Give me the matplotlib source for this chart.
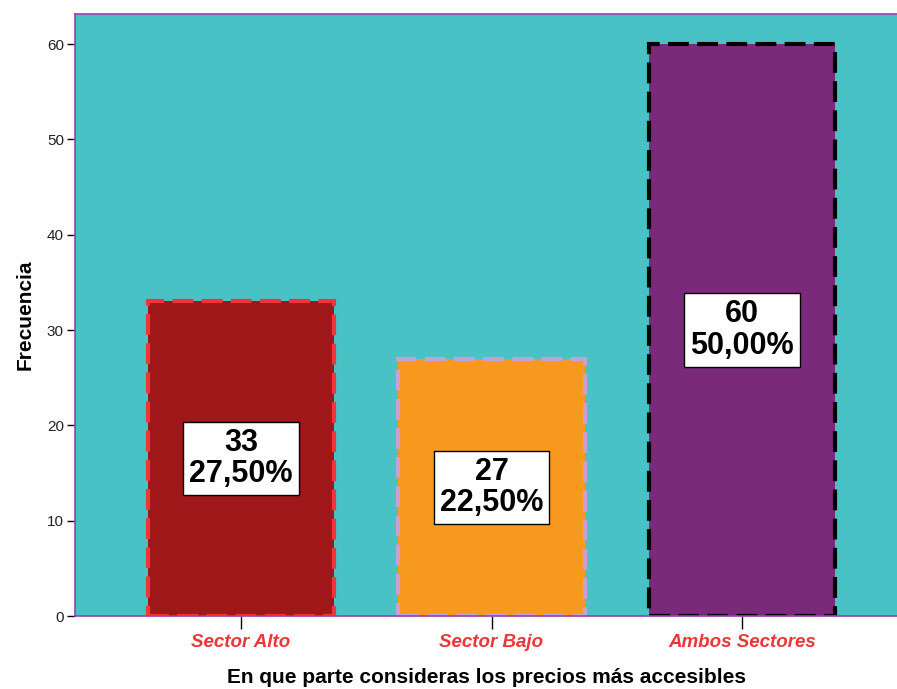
import matplotlib
matplotlib.use("Agg")
import matplotlib.pyplot as plt

categories = ["Sector Alto", "Sector Bajo", "Ambos Sectores"]
counts = [33, 27, 60]
percents = ["27,50%", "22,50%", "50,00%"]
fill_colors = ["#a0171a", "#f7991f", "#7b2a7b"]
edge_colors = ["#ee3539", "#c9a0d2", "#000000"]
yticks = [0, 10, 20, 30, 40, 50, 60]

fig = plt.figure(figsize=(8.97, 6.89), dpi=100)
ax = fig.add_axes([75/897, 1-616/689, 1-75/897, (616-14)/689])
ax.set_facecolor("#48c2c5")

x = list(range(len(categories)))
for i in x:
    ax.bar(i, counts[i], width=0.745, color=fill_colors[i], edgecolor=edge_colors[i],
           linewidth=3, linestyle=(0, (5, 2)), zorder=2)
    ax.text(i, counts[i] / 2, f"{counts[i]}\n{percents[i]}", ha="center", va="center",
            fontsize=22, fontweight="bold", family="Liberation Sans", linespacing=1.05,
            bbox=dict(boxstyle="square,pad=0.2", fc="white", ec="black", lw=1), zorder=3)

ax.set_xlim(-0.663, 2.619)
ax.set_ylim(0, 63.15)
ax.set_yticks(yticks)
ax.set_yticklabels([str(v) for v in yticks], family="Liberation Sans", fontsize=11, color="#222222")
ax.set_xticks(x)
ax.set_xticklabels(categories, family="Liberation Sans", fontsize=13.5, fontstyle="italic",
                   fontweight="bold", color="#ee3539")
ax.tick_params(axis="y", direction="out", length=6, width=1, color="black", pad=2)
ax.tick_params(axis="x", direction="out", length=9, width=1, color="black", pad=4)

for s in ["left", "bottom", "top"]:
    ax.spines[s].set_color("#9b3fb0")
    ax.spines[s].set_linewidth(1.2)
ax.spines["right"].set_visible(False)

ax.set_ylabel("Frecuencia", family="Liberation Sans", fontsize=15, fontweight="bold", labelpad=9)
ax.set_xlabel("En que parte consideras los precios más accesibles", family="Liberation Sans",
              fontsize=15, fontweight="bold", labelpad=12)

fig.savefig("out.png", dpi=100)
